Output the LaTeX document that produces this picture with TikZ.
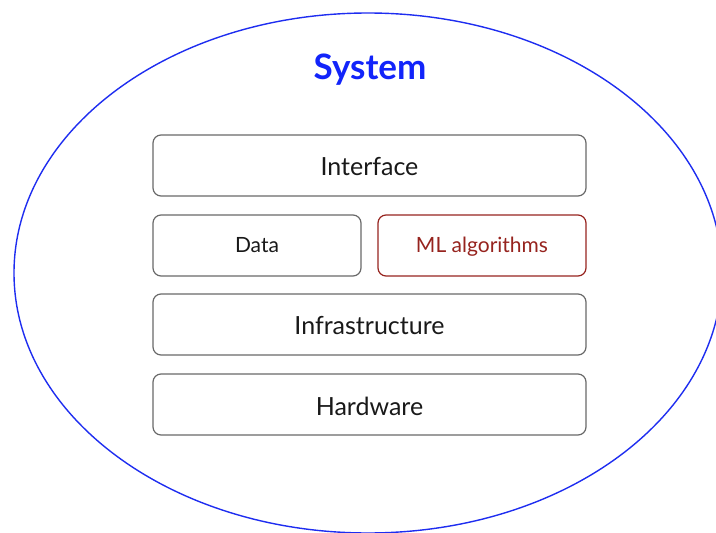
\documentclass[tikz,border=0pt]{standalone}
\usepackage{fontspec}
\usetikzlibrary{shapes.geometric}
\setmainfont{Lato}
\definecolor{sysblue}{RGB}{18,36,250}
\definecolor{ellblue}{RGB}{30,45,240}
\definecolor{boxgray}{RGB}{105,105,105}
\definecolor{mlred}{RGB}{150,35,30}
\definecolor{txt}{RGB}{25,25,25}
\begin{document}
\begin{tikzpicture}[x=1pt,y=-1pt,
  layer/.style={draw=boxgray,line width=1.2pt,rounded corners=8pt,inner sep=0pt,text=txt},
  lbl/.style={font=\fontsize{25}{30}\selectfont},
  small/.style={font=\fontsize{21}{25}\selectfont,text height=15pt,text depth=4pt}]
\useasboundingbox (0,0) rectangle (716,533);
\begin{scope}
\clip (0,0) rectangle (716,533);
\node[draw=ellblue,line width=1.4pt,ellipse,minimum width=708pt,minimum height=520pt,inner sep=0pt] (sys) at (368,273) {};
\end{scope}
\node[text=sysblue,font=\fontsize{35}{42}\selectfont\bfseries] (title) at (370,70) {System};
\draw[layer] (153,135) rectangle (586,196);
\node[lbl,text=txt] (iface) at (369.5,167) {Interface};
\draw[layer] (153,215) rectangle (361,276);
\node[small,text=txt] (data) at (257,247) {Data};
\draw[layer,draw=mlred] (378,215) rectangle (586,276);
\node[small,text=mlred] (ml) at (482,247) {ML algorithms};
\draw[layer] (153,294) rectangle (586,355);
\node[lbl,text=txt] (infra) at (369.5,326) {Infrastructure};
\draw[layer] (153,374) rectangle (586,435);
\node[lbl,text=txt] (hw) at (369.5,406) {Hardware};
\end{tikzpicture}
\end{document}
